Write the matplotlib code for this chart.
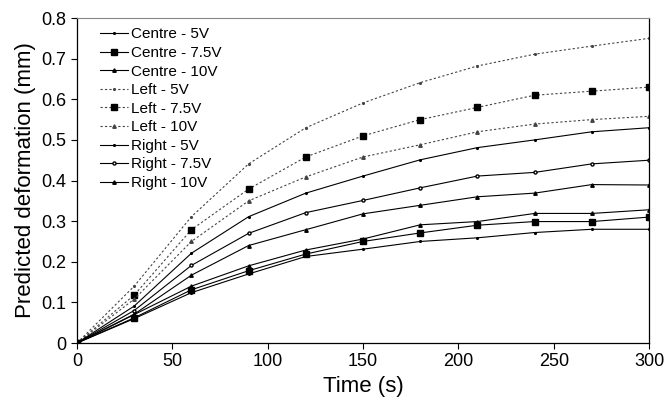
import matplotlib
matplotlib.use("Agg")
import matplotlib.pyplot as plt
import numpy as np

plt.rcParams['font.family'] = ['Liberation Sans', 'DejaVu Sans']

time_s = [0, 30, 60, 90, 120, 150, 180, 210, 240, 270, 300]

centre_5 = [0, 0.06, 0.124, 0.17, 0.213, 0.231, 0.25, 0.259, 0.272, 0.28, 0.28]
centre_75 = [0, 0.062, 0.131, 0.178, 0.219, 0.25, 0.271, 0.29, 0.299, 0.299, 0.31]
centre_10 = [0, 0.07, 0.14, 0.19, 0.229, 0.256, 0.291, 0.299, 0.319, 0.319, 0.328]
left_5 = [0, 0.14, 0.311, 0.441, 0.53, 0.591, 0.641, 0.682, 0.711, 0.731, 0.75]
left_75 = [0, 0.118, 0.279, 0.379, 0.458, 0.51, 0.55, 0.58, 0.61, 0.62, 0.63]
left_10 = [0, 0.108, 0.25, 0.35, 0.409, 0.458, 0.488, 0.52, 0.539, 0.55, 0.558]
right_5 = [0, 0.091, 0.221, 0.311, 0.369, 0.411, 0.451, 0.481, 0.5, 0.52, 0.53]
right_75 = [0, 0.08, 0.191, 0.27, 0.321, 0.351, 0.382, 0.411, 0.42, 0.441, 0.45]
right_10 = [0, 0.071, 0.167, 0.24, 0.279, 0.318, 0.339, 0.36, 0.369, 0.39, 0.389]

fig = plt.figure(figsize=(6.65, 4.01), dpi=100)
ax = fig.add_axes([0.1158, 0.1446, 0.976 - 0.1158, 0.955 - 0.1446])

dot = (0, (2, 2))
ax.plot(time_s, centre_5, color='black', lw=0.8, marker='.', ms=2.5, label='Centre - 5V')
ax.plot(time_s, centre_75, color='black', lw=0.8, marker='s', ms=3.8, label='Centre - 7.5V')
ax.plot(time_s, centre_10, color='black', lw=0.8, marker='^', ms=2.5, label='Centre - 10V')
ax.plot(time_s, left_5, color='#444444', lw=0.8, ls=dot, marker='.', ms=2.5, label='Left - 5V')
ax.plot(time_s, left_75, color='#444444', lw=0.8, ls=dot, marker='s', ms=3.8, mfc='black', mec='black', label='Left - 7.5V')
ax.plot(time_s, left_10, color='#444444', lw=0.8, ls=dot, marker='^', ms=2.5, label='Left - 10V')
ax.plot(time_s, right_5, color='black', lw=0.8, marker='.', ms=2.5, label='Right - 5V')
ax.plot(time_s, right_75, color='black', lw=0.8, marker='o', ms=2.2, mfc='white', label='Right - 7.5V')
ax.plot(time_s, right_10, color='black', lw=0.8, marker='^', ms=2.5, label='Right - 10V')

ax.set_xlim(0, 300)
ax.set_ylim(0, 0.8)
ax.set_xticks(np.arange(0, 301, 50))
yt = np.round(np.arange(0, 0.81, 0.1), 1)
ax.set_yticks(yt)
ax.set_yticklabels([f'{v:g}' for v in yt])
ax.tick_params(direction='out', length=4, labelsize=13, width=0.8)
ax.spines['top'].set_color('#888888')
for s in ['left', 'bottom', 'right']:
    ax.spines[s].set_linewidth(0.9)

ax.set_xlabel('Time (s)', fontsize=16)
ax.set_ylabel('Predicted deformation (mm)', fontsize=16)

ax.legend(loc='upper left', bbox_to_anchor=(0.03, 0.99), frameon=False, fontsize=11,
          handlelength=1.8, labelspacing=0.3, handletextpad=0.2, borderaxespad=0)

fig.savefig('out.png', dpi=100)
